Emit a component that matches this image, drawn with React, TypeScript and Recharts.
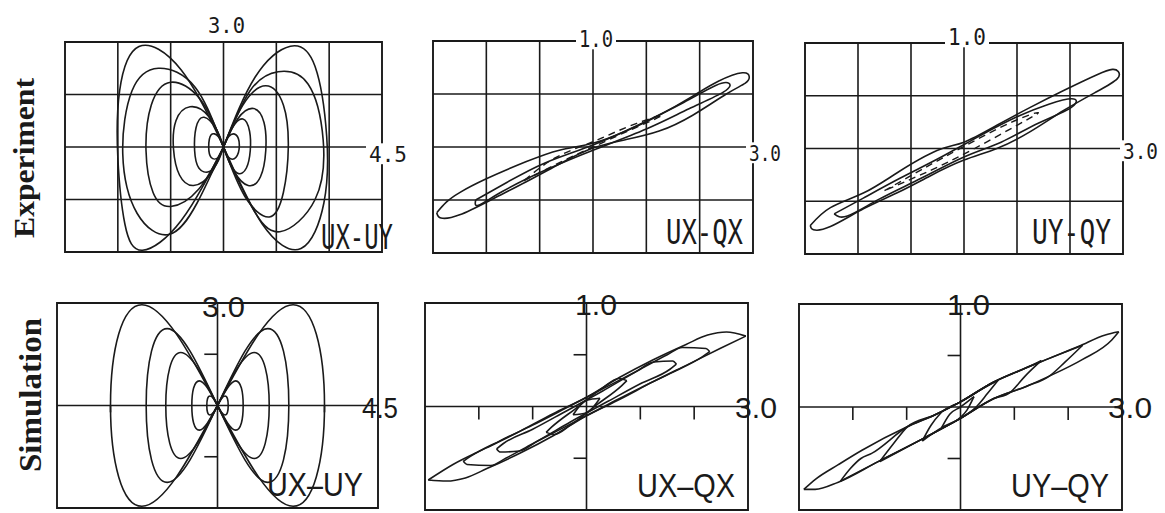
import { FC } from 'react'
import { LineChart, Line, XAxis, YAxis, ReferenceLine, ReferenceArea } from 'recharts'

type Pt = [number, number]

// ---- Experiment, UX-UY (full scale 4.5 / 3.0) ----
const expUxUy1: Pt[] = [[0, 0], [0.9, 2.0], [1.9, 2.88], [2.6, 2.3], [2.93, 0.3], [2.85, -1.6], [2.2, -2.9], [1.1, -2.2], [0, 0], [-1.2, 2.2], [-2.4, 2.87], [-2.95, 1.6], [-3.0, -0.3], [-2.8, -2.2], [-2.3, -2.95], [-1.2, -2.1], [0, 0]]
const expUxUy2: Pt[] = [[0, 0], [0.75, 1.6], [1.55, 2.15], [2.4, 1.8], [2.83, 0.2], [2.6, -1.5], [1.6, -2.42], [0.8, -1.7], [0, 0], [-0.8, 1.7], [-1.85, 2.25], [-2.6, 1.6], [-2.86, -0.2], [-2.45, -1.9], [-1.55, -2.5], [-0.75, -1.6], [0, 0]]
const expUxUy3: Pt[] = [[0, 0], [0.55, 1.2], [1.2, 1.75], [1.7, 1.2], [1.84, 0], [1.7, -1.3], [1.3, -2.0], [0.6, -1.4], [0, 0], [-0.65, 1.35], [-1.5, 1.85], [-2.05, 1.2], [-2.2, -0.1], [-2.0, -1.3], [-1.5, -1.7], [-0.7, -1.2], [0, 0]]
const expUxUy4: Pt[] = [[0, 0], [0.4, 0.8], [0.85, 1.1], [1.15, 0.7], [1.2, -0.1], [1.05, -0.85], [0.7, -1.1], [0.3, -0.7], [0, 0], [-0.4, 0.85], [-0.95, 1.15], [-1.35, 0.75], [-1.42, -0.05], [-1.25, -0.8], [-0.85, -1.1], [-0.35, -0.75], [0, 0]]
const expUxUy5: Pt[] = [[0, 0], [0.25, 0.55], [0.55, 0.8], [0.74, 0.45], [0.76, -0.1], [0.65, -0.6], [0.4, -0.75], [0.15, -0.4], [0, 0], [-0.2, 0.5], [-0.55, 0.85], [-0.78, 0.55], [-0.82, -0.1], [-0.7, -0.6], [-0.4, -0.7], [-0.15, -0.4], [0, 0]]
const expUxUy6: Pt[] = [[0, 0], [0.15, 0.3], [0.35, 0.35], [0.45, 0.05], [0.35, -0.3], [0.15, -0.3], [0, 0], [-0.15, 0.3], [-0.35, 0.35], [-0.42, 0], [-0.35, -0.3], [-0.15, -0.3], [0, 0]]

// ---- Experiment, UX-QX (3.0 / 1.0) ----
const expUxQx1: Pt[] = [[-2.93, -0.62], [-2.75, -0.52], [-2.5, -0.43], [-2.0, -0.3], [-1.26, -0.14], [-0.63, -0.03], [0, 0.035], [0.62, 0.15], [1.24, 0.3], [1.87, 0.48], [2.35, 0.62], [2.8, 0.7], [2.93, 0.66], [2.85, 0.6], [2.5, 0.5], [1.87, 0.3], [1.24, 0.15], [0.62, 0.07], [0, -0.01], [-0.63, -0.16], [-1.26, -0.33], [-1.88, -0.49], [-2.5, -0.64], [-2.85, -0.67], [-2.93, -0.62]]
const expUxQx2: Pt[] = [[-2.2, -0.5], [-1.6, -0.33], [-0.9, -0.15], [0, 0.02], [0.9, 0.22], [1.7, 0.42], [2.3, 0.58], [2.55, 0.6], [2.45, 0.52], [1.8, 0.36], [1.0, 0.17], [0, -0.03], [-0.9, -0.22], [-1.7, -0.42], [-2.15, -0.55], [-2.2, -0.5]]
const expUxQx3: Pt[] = [[-1.3, -0.32], [-0.6, -0.14], [0, 0], [0.7, 0.16], [1.3, 0.3], [0.7, 0.2], [0, 0.05], [-0.7, -0.1], [-1.3, -0.32]]

// ---- Experiment, UY-QY (3.0 / 1.0) ----
const expUyQy1: Pt[] = [[-2.9, -0.73], [-2.52, -0.56], [-1.89, -0.42], [-1.26, -0.23], [-0.51, -0.02], [0, 0.06], [0.62, 0.22], [1.25, 0.39], [1.88, 0.55], [2.51, 0.7], [2.8, 0.75], [2.91, 0.73], [2.89, 0.66], [2.51, 0.54], [1.88, 0.36], [1.25, 0.16], [0.62, 0.0], [0, -0.11], [-0.64, -0.26], [-1.26, -0.42], [-1.89, -0.57], [-2.52, -0.74], [-2.84, -0.77], [-2.9, -0.73]]
const expUyQy2: Pt[] = [[-2.45, -0.62], [-1.9, -0.47], [-1.2, -0.28], [-0.5, -0.1], [0.3, 0.12], [1.0, 0.3], [1.6, 0.42], [2.07, 0.47], [2.0, 0.38], [1.4, 0.24], [0.7, 0.06], [0, -0.08], [-0.8, -0.28], [-1.6, -0.48], [-2.2, -0.64], [-2.45, -0.62]]
const expUyQy3: Pt[] = [[-1.5, -0.4], [-0.8, -0.2], [0, 0.02], [0.9, 0.25], [1.4, 0.34], [1.0, 0.22], [0.2, 0.0], [-0.6, -0.2], [-1.5, -0.4]]

// ---- Simulation, UX-UY (4.5 / 3.0) ----
const simUxUy1: Pt[] = [[0, 0], [1.15, 2.09], [2.12, 2.95], [2.77, 2.09], [3.0, 0], [2.77, -2.09], [2.12, -2.95], [1.15, -2.09], [0, 0], [-1.15, 2.09], [-2.12, 2.95], [-2.77, 2.09], [-3.0, 0], [-2.77, -2.09], [-2.12, -2.95], [-1.15, -2.09], [0, 0]]
const simUxUy2: Pt[] = [[0, 0], [0.77, 1.59], [1.41, 2.25], [1.85, 1.59], [2.0, 0], [1.85, -1.59], [1.41, -2.25], [0.77, -1.59], [0, 0], [-0.77, 1.59], [-1.41, 2.25], [-1.85, 1.59], [-2.0, 0], [-1.85, -1.59], [-1.41, -2.25], [-0.77, -1.59], [0, 0]]
const simUxUy3: Pt[] = [[0, 0], [0.56, 1.1], [1.03, 1.55], [1.34, 1.1], [1.45, 0], [1.34, -1.1], [1.03, -1.55], [0.56, -1.1], [0, 0], [-0.56, 1.1], [-1.03, 1.55], [-1.34, 1.1], [-1.45, 0], [-1.34, -1.1], [-1.03, -1.55], [-0.56, -1.1], [0, 0]]
const simUxUy4: Pt[] = [[0, 0], [0.28, 0.51], [0.51, 0.72], [0.67, 0.51], [0.72, 0], [0.67, -0.51], [0.51, -0.72], [0.28, -0.51], [0, 0], [-0.28, 0.51], [-0.51, 0.72], [-0.67, 0.51], [-0.72, 0], [-0.67, -0.51], [-0.51, -0.72], [-0.28, -0.51], [0, 0]]
const simUxUy5: Pt[] = [[0, 0], [0.11, 0.2], [0.21, 0.28], [0.28, 0.2], [0.3, 0], [0.28, -0.2], [0.21, -0.28], [0.11, -0.2], [0, 0], [-0.11, 0.2], [-0.21, 0.28], [-0.28, 0.2], [-0.3, 0], [-0.28, -0.2], [-0.21, -0.28], [-0.11, -0.2], [0, 0]]

// ---- Simulation, UX-QX: each loop as upper + lower branch ----
const simUxQxUpper1: Pt[] = [[-2.94, -0.71], [-2.48, -0.56], [-1.86, -0.4], [-1.24, -0.24], [-0.62, -0.07], [0, 0.09], [0.61, 0.28], [1.23, 0.45], [1.85, 0.6], [2.25, 0.69], [2.6, 0.72], [2.96, 0.68]]
const simUxQxLower1: Pt[] = [[-2.94, -0.71], [-2.6, -0.72], [-2.25, -0.69], [-1.85, -0.6], [-1.23, -0.45], [-0.61, -0.28], [0, -0.09], [0.62, 0.07], [1.24, 0.24], [1.86, 0.4], [2.48, 0.56], [2.96, 0.68]]
const simUxQxUpper2: Pt[] = [[-2.29, -0.53], [-2.15, -0.48], [-1.6, -0.33], [-1.0, -0.18], [-0.4, -0.02], [0.3, 0.17], [1.0, 0.36], [1.5, 0.5], [1.78, 0.57], [2.22, 0.56], [2.29, 0.53]]
const simUxQxLower2: Pt[] = [[-2.29, -0.53], [-2.22, -0.56], [-1.78, -0.57], [-1.5, -0.5], [-1.0, -0.36], [-0.3, -0.17], [0.4, 0.02], [1.0, 0.18], [1.6, 0.33], [2.15, 0.48], [2.29, 0.53]]
const simUxQxUpper3: Pt[] = [[-1.67, -0.41], [-1.55, -0.36], [-1.0, -0.22], [-0.4, -0.05], [0.3, 0.15], [0.9, 0.33], [1.25, 0.43], [1.6, 0.44], [1.67, 0.41]]
const simUxQxLower3: Pt[] = [[-1.67, -0.41], [-1.6, -0.44], [-1.25, -0.43], [-0.9, -0.33], [-0.3, -0.15], [0.4, 0.05], [1.0, 0.22], [1.55, 0.36], [1.67, 0.41]]
const simUxQxUpper4: Pt[] = [[-0.75, -0.25], [-0.65, -0.2], [-0.2, -0.02], [0.3, 0.18], [0.6, 0.27], [0.75, 0.25]]
const simUxQxLower4: Pt[] = [[-0.75, -0.25], [-0.6, -0.27], [-0.3, -0.18], [0.2, 0.02], [0.65, 0.2], [0.75, 0.25]]
const simUxQxUpper5: Pt[] = [[-0.25, -0.08], [0, 0.06], [0.25, 0.08]]
const simUxQxLower5: Pt[] = [[-0.25, -0.08], [0, -0.06], [0.25, 0.08]]

// ---- Simulation, UY-QY: each loop as upper + lower branch ----
const simUyQyUpper1: Pt[] = [[-2.91, -0.8], [-2.69, -0.7], [-2.27, -0.56], [-1.83, -0.42], [-0.98, -0.19], [-0.49, -0.08], [0, 0.05], [0.61, 0.24], [1.22, 0.38], [1.59, 0.46], [2.2, 0.59], [2.69, 0.7], [2.94, 0.73]]
const simUyQyLower1: Pt[] = [[-2.91, -0.8], [-2.7, -0.8], [-2.27, -0.73], [-1.53, -0.53], [-0.67, -0.3], [0, -0.11], [0.61, 0.08], [1.22, 0.2], [1.65, 0.3], [2.26, 0.46], [2.81, 0.65], [2.94, 0.73]]
const simUyQyUpper2: Pt[] = [[-2.23, -0.72], [-2.05, -0.6], [-1.85, -0.5], [-1.65, -0.45], [-0.98, -0.19], [-0.49, -0.08], [0, 0.05], [0.61, 0.24], [1.22, 0.38], [1.59, 0.46], [2.27, 0.6]]
const simUyQyLower2: Pt[] = [[-2.23, -0.72], [-1.53, -0.53], [-0.67, -0.3], [0, -0.11], [0.61, 0.08], [1.22, 0.2], [1.65, 0.3], [1.95, 0.44], [2.27, 0.6]]
const simUyQyUpper3: Pt[] = [[-1.5, -0.53], [-1.25, -0.36], [-0.98, -0.19], [-0.49, -0.08], [0, 0.05], [0.61, 0.24], [1.22, 0.38], [1.5, 0.45]]
const simUyQyLower3: Pt[] = [[-1.5, -0.53], [-0.67, -0.3], [0, -0.11], [0.61, 0.08], [0.92, 0.14], [1.2, 0.3], [1.5, 0.45]]
const simUyQyUpper4: Pt[] = [[-0.71, -0.33], [-0.55, -0.18], [-0.37, -0.06], [0, 0.05], [0.35, 0.16], [0.7, 0.26]]
const simUyQyLower4: Pt[] = [[-0.71, -0.33], [-0.35, -0.2], [0, -0.11], [0.29, 0.0], [0.5, 0.13], [0.7, 0.26]]
const simUyQyUpper5: Pt[] = [[-0.35, -0.2], [-0.2, -0.07], [0, 0.0], [0.25, 0.1]]
const simUyQyLower5: Pt[] = [[-0.35, -0.2], [0, -0.1], [0.12, -0.03], [0.25, 0.1]]

// grid / tick positions
const gridUxUyX = [-3, -1.5, 0, 1.5, 3]
const gridUxUyY = [-1.5, 0, 1.5]
const gridQX = [-2, -1, 0, 1, 2]
const gridQY = [-0.5, 0, 0.5]
const ticksUxUyX = [-3, 3]
const ticksUxUyY = [-1.5, 1.5]
const ticksQX = [-2, -1, 1, 2]
const ticksQY = [-0.5, 0.5]

const INK = '#1a1a1a'
const M = 4

type PanelProps = {
  left: number
  top: number
  width: number
  height: number
  xMax: number
  yMax: number
  gridX?: number[]
  gridY?: number[]
  ticksX?: number[]
  ticksY?: number[]
  tickDx?: number
  tickDy?: number
  loops?: Pt[][]
  dashed?: Pt[][]
  branches?: Pt[][]
}

const toData = (pts: Pt[]) => pts.map(([x, y]) => ({ x, y }))

const Panel: FC<PanelProps> = (p) => {
  const axes = !p.gridX
  return (
    <div style={{ position: 'absolute', left: p.left - M, top: p.top - M }}>
      <LineChart width={p.width + 2 * M} height={p.height + 2 * M} margin={{ top: M, right: M, bottom: M, left: M }}>
        <XAxis type="number" dataKey="x" domain={[-p.xMax, p.xMax]} hide />
        <YAxis type="number" domain={[-p.yMax, p.yMax]} hide />
        <ReferenceArea x1={-p.xMax} x2={p.xMax} y1={-p.yMax} y2={p.yMax} fill="none" stroke={INK} strokeWidth={1.9} />
        {(p.gridX || []).map((v) => (
          <ReferenceLine key={'gx' + v} x={v} stroke={INK} strokeWidth={1.6} />
        ))}
        {(p.gridY || []).map((v) => (
          <ReferenceLine key={'gy' + v} y={v} stroke={INK} strokeWidth={1.6} />
        ))}
        {axes && <ReferenceLine x={0} stroke={INK} strokeWidth={1.6} />}
        {axes && <ReferenceLine y={0} stroke={INK} strokeWidth={1.6} />}
        {(p.ticksX || []).map((v) => (
          <ReferenceLine key={'tx' + v} segment={[{ x: v, y: 0 }, { x: v, y: -(p.tickDy || 0) }]} stroke={INK} strokeWidth={1.6} />
        ))}
        {(p.ticksY || []).map((v) => (
          <ReferenceLine key={'ty' + v} segment={[{ x: 0, y: v }, { x: -(p.tickDx || 0), y: v }]} stroke={INK} strokeWidth={1.6} />
        ))}
        {(p.loops || []).map((pts, i) => (
          <Line key={'l' + i} data={toData(pts)} dataKey="y" type="natural" stroke={INK} strokeWidth={1.6}
            dot={false} activeDot={false} isAnimationActive={false} />
        ))}
        {(p.dashed || []).map((pts, i) => (
          <Line key={'d' + i} data={toData(pts)} dataKey="y" type="natural" stroke={INK} strokeWidth={1.4}
            strokeDasharray="7 5" dot={false} activeDot={false} isAnimationActive={false} />
        ))}
        {(p.branches || []).map((pts, i) => (
          <Line key={'b' + i} data={toData(pts)} dataKey="y" type="monotone" stroke={INK} strokeWidth={1.6}
            dot={false} activeDot={false} isAnimationActive={false} />
        ))}
      </LineChart>
    </div>
  )
}

type Lbl = { text: string; x: number; y: number; len: number; size: number; bg?: boolean }

const expLabels: Lbl[] = [
  { text: '3.0', x: 208, y: 33, len: 37, size: 22 },
  { text: '4.5', x: 369, y: 162, len: 38, size: 22, bg: true },
  { text: '1.0', x: 579, y: 47, len: 34, size: 23, bg: true },
  { text: '3.0', x: 749, y: 161, len: 32, size: 22, bg: true },
  { text: '1.0', x: 948, y: 45, len: 38, size: 23, bg: true },
  { text: '3.0', x: 1123, y: 159, len: 35, size: 22, bg: true },
  { text: 'UX-UY', x: 321, y: 249, len: 72, size: 34 },
  { text: 'UX-QX', x: 666, y: 244, len: 77, size: 33 },
  { text: 'UY-QY', x: 1032, y: 244, len: 79, size: 33 },
]

const simLabels: Lbl[] = [
  { text: '3.0', x: 202, y: 317, len: 43, size: 29 },
  { text: '4.5', x: 362, y: 418, len: 36, size: 29 },
  { text: 'UX–UY', x: 267, y: 496, len: 96, size: 33 },
  { text: '1.0', x: 575, y: 315, len: 42, size: 29 },
  { text: '3.0', x: 735, y: 418, len: 42, size: 29 },
  { text: 'UX–QX', x: 637, y: 497, len: 98, size: 33 },
  { text: '1.0', x: 947, y: 315, len: 43, size: 29 },
  { text: '3.0', x: 1108, y: 418, len: 44, size: 29 },
  { text: 'UY–QY', x: 1011, y: 497, len: 98, size: 33 },
]

const App: FC = () => {
  return (
    <div style={{ position: 'absolute', left: 0, top: 0, width: 1165, height: 513, background: '#fff', overflow: 'hidden' }}>
      <Panel left={65} top={42} width={317} height={210} xMax={4.5} yMax={3}
        gridX={gridUxUyX} gridY={gridUxUyY}
        loops={[expUxUy1, expUxUy2, expUxUy3, expUxUy4, expUxUy5, expUxUy6]} />
      <Panel left={433} top={41} width={320} height={212} xMax={3} yMax={1}
        gridX={gridQX} gridY={gridQY}
        loops={[expUxQx1, expUxQx2]} dashed={[expUxQx3]} />
      <Panel left={805} top={43} width={318} height={211} xMax={3} yMax={1}
        gridX={gridQX} gridY={gridQY}
        loops={[expUyQy1, expUyQy2]} dashed={[expUyQy3]} />

      <Panel left={57} top={303} width={321} height={205} xMax={4.5} yMax={3}
        ticksX={ticksUxUyX} ticksY={ticksUxUyY} tickDx={0.37} tickDy={0.2}
        loops={[simUxUy1, simUxUy2, simUxUy3, simUxUy4, simUxUy5]} />
      <Panel left={425} top={303} width={323} height={207} xMax={3} yMax={1}
        ticksX={ticksQX} ticksY={ticksQY} tickDx={0.24} tickDy={0.125}
        branches={[simUxQxUpper1, simUxQxLower1, simUxQxUpper2, simUxQxLower2, simUxQxUpper3, simUxQxLower3, simUxQxUpper4, simUxQxLower4, simUxQxUpper5, simUxQxLower5]} />
      <Panel left={799} top={304} width={323} height={206} xMax={3} yMax={1}
        ticksX={ticksQX} ticksY={ticksQY} tickDx={0.24} tickDy={0.125}
        branches={[simUyQyUpper1, simUyQyLower1, simUyQyUpper2, simUyQyLower2, simUyQyUpper3, simUyQyLower3, simUyQyUpper4, simUyQyLower4, simUyQyUpper5, simUyQyLower5]} />

      <svg width={1165} height={513} style={{ position: 'absolute', left: 0, top: 0, pointerEvents: 'none' }}>
        {expLabels.map((l, i) => (
          <g key={'e' + i}>
            {l.bg && <rect x={l.x - 3} y={l.y - l.size * 0.85} width={l.len + 6} height={l.size * 0.95} fill="#fff" />}
            <text x={l.x} y={l.y} fontFamily="'DejaVu Sans Mono', monospace" fontSize={l.size} fill={INK}
              textLength={l.len} lengthAdjust="spacingAndGlyphs">{l.text}</text>
          </g>
        ))}
        {simLabels.map((l, i) => (
          <text key={'s' + i} x={l.x} y={l.y} fontFamily="'Liberation Sans', Arial, sans-serif" fontSize={l.size} fill={INK}
            textLength={l.len} lengthAdjust="spacingAndGlyphs">{l.text}</text>
        ))}
        <text transform="translate(34,158) rotate(-90)" textAnchor="middle" fontFamily="'Liberation Serif', serif"
          fontWeight="bold" fontSize={30} fill={INK} textLength={160} lengthAdjust="spacingAndGlyphs">Experiment</text>
        <text transform="translate(41,395) rotate(-90)" textAnchor="middle" fontFamily="'Liberation Serif', serif"
          fontWeight="bold" fontSize={32} fill={INK} textLength={154} lengthAdjust="spacingAndGlyphs">Simulation</text>
      </svg>
    </div>
  )
}

export default App
